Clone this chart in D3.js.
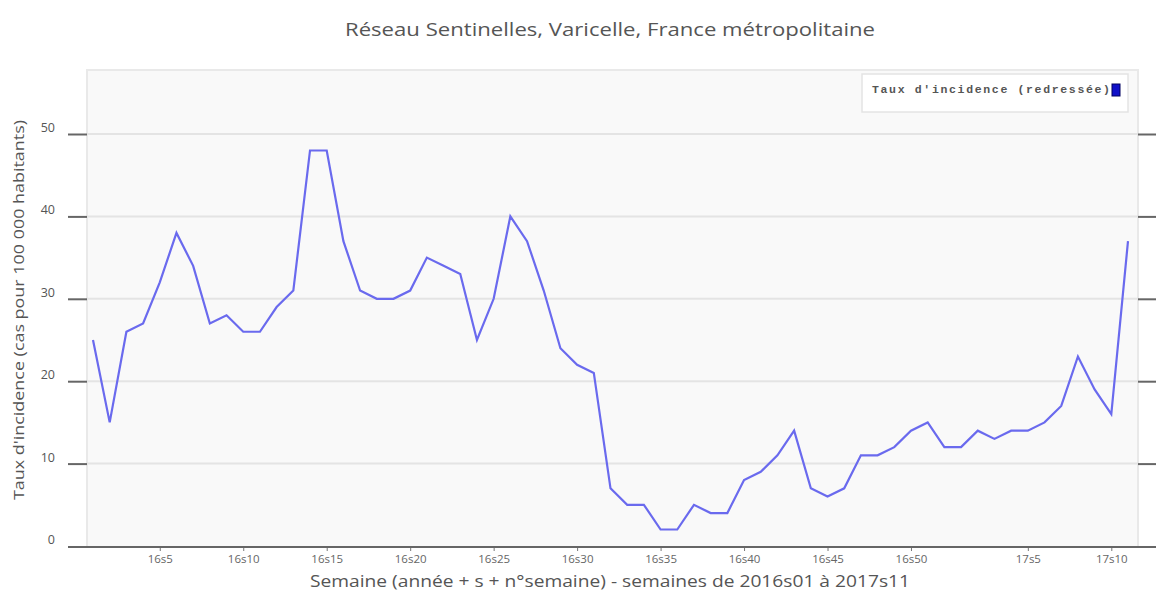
<!DOCTYPE html>
<html><head><meta charset="utf-8">
<script src="https://cdn.jsdelivr.net/npm/d3@7"></script>
<style>
body{margin:0;background:#fff;}
svg{display:block;}
</style></head>
<body>
<svg id="c" width="1156" height="593"></svg>
<script>
const weeks = ["2016s01","2016s02","2016s03","2016s04","2016s05","2016s06","2016s07","2016s08","2016s09","2016s10",
"2016s11","2016s12","2016s13","2016s14","2016s15","2016s16","2016s17","2016s18","2016s19","2016s20",
"2016s21","2016s22","2016s23","2016s24","2016s25","2016s26","2016s27","2016s28","2016s29","2016s30",
"2016s31","2016s32","2016s33","2016s34","2016s35","2016s36","2016s37","2016s38","2016s39","2016s40",
"2016s41","2016s42","2016s43","2016s44","2016s45","2016s46","2016s47","2016s48","2016s49","2016s50",
"2016s51","2016s52",
"2017s01","2017s02","2017s03","2017s04","2017s05","2017s06","2017s07","2017s08","2017s09","2017s10","2017s11"];
const incidence = [25,15,26,27,32,38,34,27,28,26,
26,29,31,48,48,37,31,30,30,31,
35,34,33,25,30,40,37,31,24,22,
21,7,5,5,2,2,5,4,4,8,
9,11,14,7,6,7,11,11,12,14,
15,12,
12,14,13,14,14,15,17,23,19,16,37];
const xTickWeeks = ["2016s05","2016s10","2016s15","2016s20","2016s25","2016s30","2016s35","2016s40","2016s45","2016s50","2017s05","2017s10"];
const xTickLabels = ["16s5","16s10","16s15","16s20","16s25","16s30","16s35","16s40","16s45","16s50","17s5","17s10"];
const yTicks = [0,10,20,30,40,50];
const title = "Réseau Sentinelles, Varicelle, France métropolitaine";
const xTitle = "Semaine (année + s + n°semaine) - semaines de 2016s01 à 2017s11";
const yTitle = "Taux d'incidence (cas pour 100 000 habitants)";
const legendLabel = "Taux d'incidence (redressée)";

const svg = d3.select("#c");
const P = {l:87, r:1138, t:70, b:547};
const x = d3.scalePoint().domain(weeks).range([93,1128]);
const y = d3.scaleLinear().domain([0,50]).range([546,134]);

// plot background
svg.append("rect").attr("x",P.l).attr("y",P.t).attr("width",P.r-P.l).attr("height",P.b-P.t)
  .attr("fill","#f9f9f9").attr("stroke","#e9e9e9").attr("stroke-width",2);

// gridlines
svg.append("g").selectAll("line").data(yTicks.filter(d=>d>0)).join("line")
  .attr("x1",P.l).attr("x2",P.r).attr("y1",d=>y(d)).attr("y2",d=>y(d))
  .attr("stroke","#e4e4e4").attr("stroke-width",2);

// left ticks + labels
const yl = svg.append("g").attr("transform",`translate(${P.l},0)`)
  .call(d3.axisLeft(y).tickValues(yTicks).tickSize(19).tickPadding(13).tickFormat(d3.format("d")));
yl.select(".domain").remove();
yl.selectAll(".tick line").attr("stroke","#666").attr("stroke-width",2).filter(d=>d===0).remove();
yl.selectAll(".tick text").attr("fill","#555").attr("font-family","Open Sans, sans-serif")
  .attr("font-size",12.5).attr("dy","-0.2em");

// right ticks
const yr = svg.append("g").attr("transform",`translate(${P.r},0)`)
  .call(d3.axisRight(y).tickValues(yTicks.filter(d=>d>0)).tickSize(18).tickFormat(""));
yr.select(".domain").remove();
yr.selectAll(".tick line").attr("stroke","#666").attr("stroke-width",2);

// x axis
const xa = svg.append("g").attr("transform",`translate(0,${P.b})`)
  .call(d3.axisBottom(x).tickValues(xTickWeeks).tickSize(4).tickPadding(4)
    .tickFormat(d=>xTickLabels[xTickWeeks.indexOf(d)]));
xa.select(".domain").remove();
xa.selectAll(".tick line").attr("stroke","#777").attr("stroke-width",1);
xa.selectAll(".tick text").attr("fill","#666").attr("font-family","Open Sans, sans-serif")
  .attr("font-size",11.5);
svg.append("line").attr("x1",68).attr("x2",1156).attr("y1",P.b).attr("y2",P.b)
  .attr("stroke","#666").attr("stroke-width",2);

// line
svg.append("path").datum(incidence)
  .attr("d", d3.line().x((d,i)=>x(weeks[i])).y(d=>y(d)))
  .attr("fill","none").attr("stroke","#6a6aee").attr("stroke-width",2.2).attr("stroke-linejoin","miter");

// title
svg.append("text").attr("x",610).attr("y",36).attr("text-anchor","middle")
  .attr("font-family","Open Sans, sans-serif").attr("font-size",17.5).attr("fill","#555")
  .attr("textLength",530).attr("lengthAdjust","spacingAndGlyphs").text(title);
svg.append("text").attr("x",610).attr("y",587).attr("text-anchor","middle")
  .attr("font-family","Open Sans, sans-serif").attr("font-size",16.5).attr("fill","#555")
  .attr("textLength",600).attr("lengthAdjust","spacingAndGlyphs").text(xTitle);
svg.append("text").attr("transform","translate(24,310) rotate(-90)").attr("text-anchor","middle")
  .attr("font-family","Open Sans, sans-serif").attr("font-size",14).attr("fill","#555")
  .attr("textLength",380).attr("lengthAdjust","spacingAndGlyphs").text(yTitle);

// legend
const lg = svg.append("g");
lg.append("rect").attr("x",862).attr("y",74).attr("width",266).attr("height",38)
  .attr("fill","#fff").attr("stroke","#e4e4e4").attr("stroke-width",1.5);
lg.append("text").attr("x",872).attr("y",93).attr("font-family","Liberation Mono, monospace")
  .attr("font-size",11.5).attr("font-weight","bold").attr("fill","#555").attr("textLength",238).attr("lengthAdjust","spacing")
  .text(legendLabel);
lg.append("rect").attr("x",1112).attr("y",84).attr("width",8).attr("height",12)
  .attr("fill","#1010c8").attr("stroke","#000060").attr("stroke-width",1);
</script>
</body></html>
